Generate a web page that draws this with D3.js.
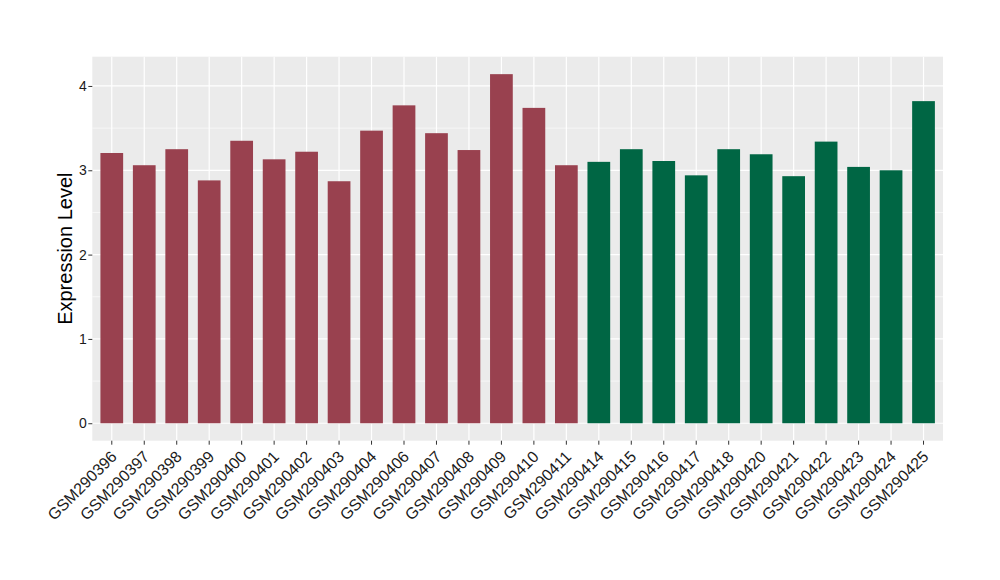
<!DOCTYPE html>
<html>
<head>
<meta charset="utf-8">
<script src="https://cdn.jsdelivr.net/npm/d3@7"></script>
<style>
  html, body { margin: 0; padding: 0; background: #ffffff; }
  svg { display: block; font-family: "Liberation Sans", Arial, Helvetica, sans-serif; }
</style>
</head>
<body>
<svg id="chart" width="1000" height="580"></svg>
<script>
const categories = ["GSM290396","GSM290397","GSM290398","GSM290399","GSM290400","GSM290401","GSM290402","GSM290403","GSM290404","GSM290406","GSM290407","GSM290408","GSM290409","GSM290410","GSM290411","GSM290414","GSM290415","GSM290416","GSM290417","GSM290418","GSM290420","GSM290421","GSM290422","GSM290423","GSM290424","GSM290425"];
const values = [3.205,3.06,3.25,2.88,3.35,3.13,3.22,2.87,3.47,3.77,3.44,3.24,4.14,3.74,3.06,3.10,3.25,3.11,2.94,3.25,3.19,2.93,3.34,3.04,3.00,3.82];
const groups = ["A","A","A","A","A","A","A","A","A","A","A","A","A","A","A","B","B","B","B","B","B","B","B","B","B","B"];
const groupColors = {A: "#99414F", B: "#006644"};
const yTicks = [0,1,2,3,4];
const yMinor = [0.5,1.5,2.5,3.5];
const yTitle = "Expression Level";

const svg = d3.select("#chart");
const panel = {left: 92.3, right: 943, top: 56.7, bottom: 440.7};

const maxV = d3.max(values);
const span = maxV - 0;
const y = d3.scaleLinear()
  .domain([0 - span*0.05, maxV + span*0.05])
  .range([panel.bottom, panel.top]);

const x = d3.scaleBand()
  .domain(categories)
  .range([panel.left, panel.right])
  .paddingInner(0.3)
  .paddingOuter(0.25);

svg.append("rect")
  .attr("x", panel.left).attr("y", panel.top)
  .attr("width", panel.right - panel.left)
  .attr("height", panel.bottom - panel.top)
  .attr("fill", "#EBEBEB");

const grid = svg.append("g");
grid.selectAll("line.minor").data(yMinor).enter().append("line")
  .attr("x1", panel.left).attr("x2", panel.right)
  .attr("y1", d => y(d)).attr("y2", d => y(d))
  .attr("stroke", "#ffffff").attr("stroke-width", 0.6);
grid.selectAll("line.majory").data(yTicks).enter().append("line")
  .attr("x1", panel.left).attr("x2", panel.right)
  .attr("y1", d => y(d)).attr("y2", d => y(d))
  .attr("stroke", "#ffffff").attr("stroke-width", 1.2);
grid.selectAll("line.majorx").data(categories).enter().append("line")
  .attr("x1", d => x(d) + x.bandwidth()/2).attr("x2", d => x(d) + x.bandwidth()/2)
  .attr("y1", panel.top).attr("y2", panel.bottom)
  .attr("stroke", "#ffffff").attr("stroke-width", 1.2);

svg.append("g").selectAll("rect").data(categories).enter().append("rect")
  .attr("x", d => x(d))
  .attr("width", x.bandwidth())
  .attr("y", (d,i) => y(values[i]))
  .attr("height", (d,i) => y(0) - y(values[i]))
  .attr("fill", (d,i) => groupColors[groups[i]]);

const yAxis = svg.append("g")
  .attr("transform", `translate(${panel.left},0)`)
  .call(d3.axisLeft(y).tickValues(yTicks).tickSize(4).tickPadding(1.5).tickFormat(d3.format("d")));
yAxis.select(".domain").remove();
yAxis.selectAll(".tick line").attr("stroke", "#333333");
yAxis.selectAll(".tick text").attr("fill", "#1a1a1a").style("font-size", "14px")
  .style("font-family", "'Liberation Sans', Arial, sans-serif");

const xAxis = svg.append("g")
  .attr("transform", `translate(0,${panel.bottom})`)
  .call(d3.axisBottom(x).tickSize(4).tickFormat(""));
xAxis.select(".domain").remove();
xAxis.selectAll(".tick line").attr("stroke", "#333333");

svg.append("g").selectAll("text").data(categories).enter().append("text")
  .attr("transform", d => `translate(${x(d) + x.bandwidth()/2 + 6},${panel.bottom + 17}) rotate(-45)`)
  .attr("text-anchor", "end")
  .attr("fill", "#1a1a1a")
  .style("font-size", "16px")
  .text(d => d);

svg.append("text")
  .attr("transform", `translate(72,${(panel.top + panel.bottom)/2}) rotate(-90)`)
  .attr("text-anchor", "middle")
  .attr("fill", "#000000")
  .style("font-size", "20px")
  .text(yTitle);
</script>
</body>
</html>
